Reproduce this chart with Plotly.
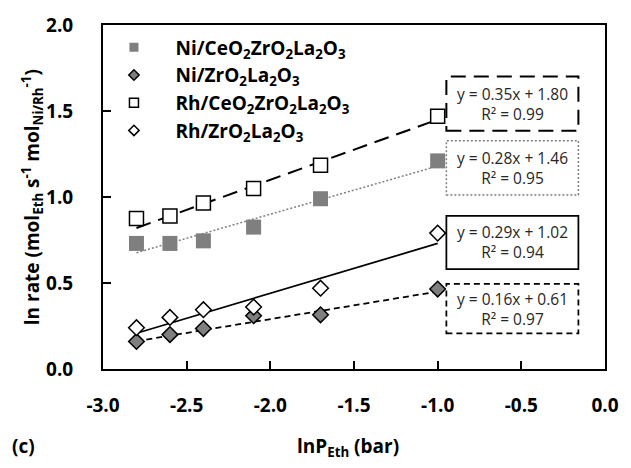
import plotly.graph_objects as go

# ---- data ----
x_ln_p = [-2.8, -2.6, -2.4, -2.1, -1.7, -1.0]
ni_cezrla = [0.73, 0.73, 0.745, 0.825, 0.99, 1.21]
ni_zrla = [0.16, 0.20, 0.235, 0.31, 0.315, 0.465]
rh_cezrla = [0.875, 0.89, 0.965, 1.05, 1.185, 1.47]
rh_zrla = [0.24, 0.30, 0.345, 0.36, 0.47, 0.79]

series_names = [
    "Ni/CeO<sub>2</sub>ZrO<sub>2</sub>La<sub>2</sub>O<sub>3</sub>",
    "Ni/ZrO<sub>2</sub>La<sub>2</sub>O<sub>3</sub>",
    "Rh/CeO<sub>2</sub>ZrO<sub>2</sub>La<sub>2</sub>O<sub>3</sub>",
    "Rh/ZrO<sub>2</sub>La<sub>2</sub>O<sub>3</sub>",
]
series_values = [ni_cezrla, ni_zrla, rh_cezrla, rh_zrla]
fit_slopes = [0.28, 0.16, 0.35, 0.29]
fit_intercepts = [1.46, 0.61, 1.80, 1.02]
fit_r2 = [0.95, 0.97, 0.99, 0.94]

x_tick_vals = [-3.0, -2.5, -2.0, -1.5, -1.0, -0.5, 0.0]
x_tick_text = ["-3.0", "-2.5", "-2.0", "-1.5", "-1.0", "-0.5", "0.0"]
y_tick_vals = [0.0, 0.5, 1.0, 1.5, 2.0]
y_tick_text = ["0.0", "0.5", "1.0", "1.5", "2.0"]

# ---- styles ----
FONT = "Open Sans"
GREY = "#7f7f7f"
marker_styles = [
    dict(symbol="square", size=15, color=GREY, line=dict(width=0, color=GREY)),
    dict(symbol="diamond", size=12, color=GREY, line=dict(width=1.5, color="black")),
    dict(symbol="square", size=14, color="white", line=dict(width=1.5, color="black")),
    dict(symbol="diamond", size=12, color="white", line=dict(width=1.5, color="black")),
]
legend_marker_styles = [
    dict(symbol="square", size=9, color=GREY, line=dict(width=0, color=GREY)),
    dict(symbol="diamond", size=8, color=GREY, line=dict(width=1.5, color="black")),
    dict(symbol="square", size=9, color="white", line=dict(width=1.5, color="black")),
    dict(symbol="diamond", size=8, color="white", line=dict(width=1.5, color="black")),
]
trend_styles = [
    dict(color=GREY, width=1.5, dash="2px,2px"),
    dict(color="black", width=1.75, dash="6px,4px"),
    dict(color="black", width=2, dash="15px,8px"),
    dict(color="black", width=1.75, dash="solid"),
]
box_styles = [
    dict(color=GREY, width=1.5, dash="2px,2px"),
    dict(color="black", width=1.75, dash="6px,4px"),
    dict(color="black", width=2, dash="15px,8px"),
    dict(color="black", width=1.75, dash="solid"),
]
# box positions (paper coords) for each series label: (y0, y1)
box_y = [(0.5057, 0.6638), (0.1034, 0.2471), (0.6925, 0.8506), (0.2902, 0.4454)]
BOX_X0, BOX_X1 = 0.684, 0.947

fig = go.Figure()

x_min, x_max = min(x_ln_p), max(x_ln_p)
for i in range(4):
    fig.add_trace(go.Scatter(
        x=[x_min, x_max],
        y=[fit_slopes[i] * x_min + fit_intercepts[i], fit_slopes[i] * x_max + fit_intercepts[i]],
        mode="lines", line=trend_styles[i], showlegend=False, hoverinfo="skip"))

for i in range(4):
    fig.add_trace(go.Scatter(
        x=x_ln_p, y=series_values[i], mode="markers",
        marker=marker_styles[i], showlegend=False, name=series_names[i]))

for i in range(4):
    fig.add_trace(go.Scatter(
        x=[None], y=[None], mode="markers",
        marker=legend_marker_styles[i], name=f"<b>{series_names[i]}</b>", showlegend=True))

BOLD = dict(family=FONT, size=19, color="black", weight=700)

shapes = []
annotations = []
for i in range(4):
    y0, y1 = box_y[i]
    shapes.append(dict(type="rect", xref="paper", yref="paper",
                       x0=BOX_X0, x1=BOX_X1, y0=y0, y1=y1,
                       line=box_styles[i], fillcolor="white", layer="above"))
    annotations.append(dict(
        xref="paper", yref="paper", x=(BOX_X0 + BOX_X1) / 2, y=(y0 + y1) / 2,
        text=f"y = {fit_slopes[i]:.2f}x + {fit_intercepts[i]:.2f}<br>R² = {fit_r2[i]:.2f}",
        showarrow=False, xanchor="center", yanchor="middle",
        font=dict(family=FONT, size=15.5, color="#262626")))

annotations.append(dict(
    xref="paper", yref="paper", x=-0.141, y=0.5, textangle=-90,
    text="<b>ln rate (mol<sub>Eth</sub> s<sup>-1</sup> mol<sub>Ni/Rh</sub><sup>-1</sup>)</b>",
    showarrow=False, xanchor="center", yanchor="middle", font=BOLD))
annotations.append(dict(
    xref="paper", yref="paper", x=0.488, y=-0.228,
    text="<b>lnP<sub>Eth</sub> (bar)</b>",
    showarrow=False, xanchor="center", yanchor="middle", font=BOLD))
annotations.append(dict(
    xref="paper", yref="paper", x=-0.159, y=-0.225,
    text="<b>(c)</b>",
    showarrow=False, xanchor="center", yanchor="middle", font=BOLD))

axis_common = dict(
    showgrid=False, zeroline=False, showline=True, linecolor="black", linewidth=2,
    mirror=True, ticks="inside", ticklen=8, tickwidth=1.5, tickcolor="black",
    tickfont=BOLD, tickmode="array",
)

fig.update_layout(
    width=631, height=468,
    margin=dict(l=103, r=18, t=21, b=99),
    paper_bgcolor="white", plot_bgcolor="white",
    xaxis=dict(range=[-3, 0], tickvals=x_tick_vals,
               ticktext=[f"<b>{t}</b>" for t in x_tick_text],
               ticklabelstandoff=18, **axis_common),
    yaxis=dict(range=[0, 2], tickvals=y_tick_vals,
               ticktext=[f"<b>{t}</b>" for t in y_tick_text],
               ticklabelstandoff=24, **axis_common),
    legend=dict(x=-0.021, y=0.99, xanchor="left", yanchor="top",
                bgcolor="rgba(0,0,0,0)", borderwidth=0, itemwidth=73,
                font=BOLD),
    shapes=shapes, annotations=annotations,
)

fig.write_html("out.html")
